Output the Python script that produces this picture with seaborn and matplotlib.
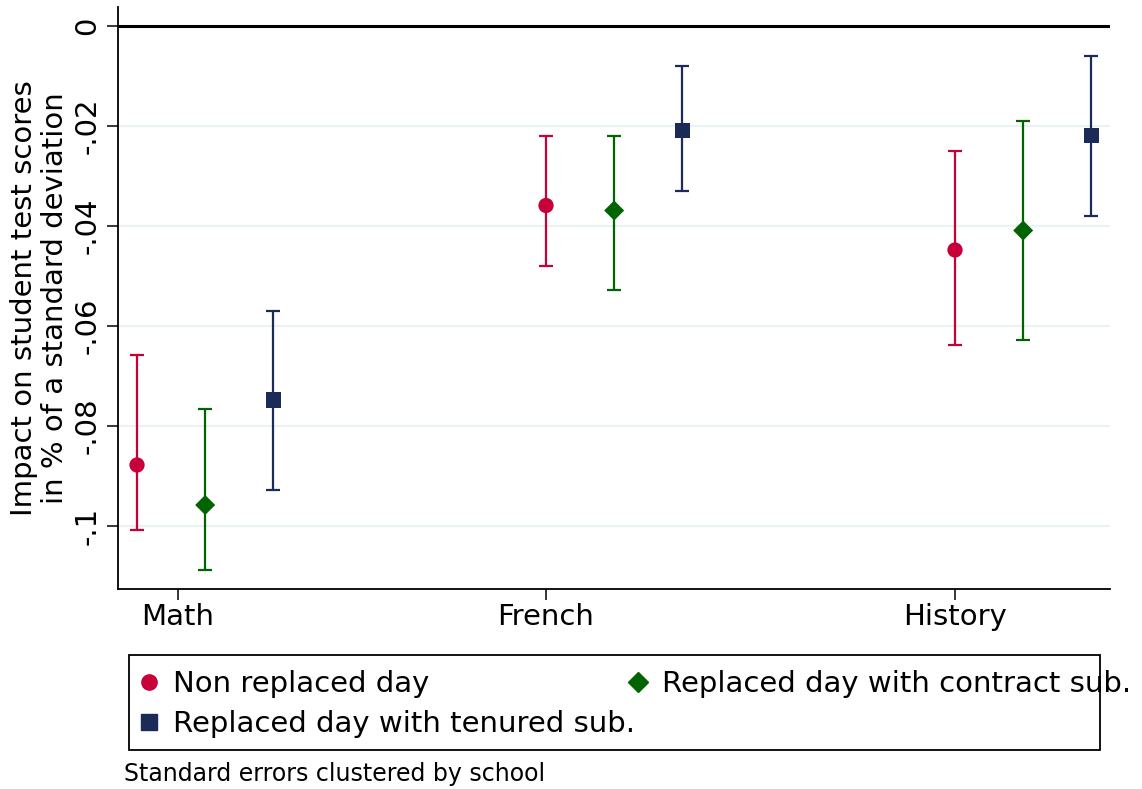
import matplotlib
matplotlib.use("Agg")
import matplotlib.pyplot as plt
from matplotlib.lines import Line2D
from matplotlib.patches import Rectangle
import numpy as np
import pandas as pd
import seaborn as sns

# data
subjects = ["Math", "French", "History"]
subject_ticks = [1.1, 2, 3]

series = ["Non replaced day", "Replaced day with contract sub.", "Replaced day with tenured sub."]
est_nonrep = [-0.0878, -0.0359, -0.0448]
lo_nonrep = [-0.1007, -0.0479, -0.0638]
hi_nonrep = [-0.0658, -0.0219, -0.0249]

est_contract = [-0.0958, -0.0369, -0.0409]
lo_contract = [-0.1087, -0.0528, -0.0628]
hi_contract = [-0.0765, -0.0219, -0.0189]

est_tenured = [-0.0748, -0.0209, -0.0219]
lo_tenured = [-0.0928, -0.0329, -0.0379]
hi_tenured = [-0.0569, -0.0080, -0.0060]

yticks = [0, -0.02, -0.04, -0.06, -0.08, -0.1]
ytick_labels = ["0", "-.02", "-.04", "-.06", "-.08", "-.1"]

# styling
colors = ["#C8003A", "#006400", "#1B2A56"]
markers = ["o", "D", "s"]
msizes = [11.0, 10.2, 11.0]
offsets = [0, 1 / 6, 1 / 3]

rows = []
for k, (name, est, lo, hi) in enumerate(zip(
        series,
        [est_nonrep, est_contract, est_tenured],
        [lo_nonrep, lo_contract, lo_tenured],
        [hi_nonrep, hi_contract, hi_tenured])):
    for g in range(len(subjects)):
        rows.append(dict(series=name, x=g + 1 + offsets[k], est=est[g], lo=lo[g], hi=hi[g]))
df = pd.DataFrame(rows)

sns.set_style("white")
plt.rcParams["font.family"] = ["DejaVu Sans"]
plt.rcParams["text.color"] = "black"
plt.rcParams["axes.labelcolor"] = "black"
plt.rcParams["xtick.color"] = "black"
plt.rcParams["ytick.color"] = "black"

W, H = 1142, 789
fig = plt.figure(figsize=(W / 100, H / 100), dpi=100)
ax = fig.add_axes([118 / W, 1 - 589 / H, (1110 - 118) / W, (589 - 7) / H])

for y in yticks[1:]:
    ax.axhline(y, color="#EAF2F3", lw=1.6, zorder=0)
ax.axhline(0, color="black", lw=2.2, zorder=1)

for k, name in enumerate(series):
    d = df[df.series == name]
    ax.errorbar(d.x, d.est, yerr=[d.est - d.lo, d.hi - d.est], fmt="none",
                ecolor=colors[k], elinewidth=1.6, capsize=5, capthick=1.6, zorder=2)
    sns.scatterplot(data=d, x="x", y="est", ax=ax, marker=markers[k], s=msizes[k] ** 2,
                    color=colors[k], edgecolor="none", linewidth=0, zorder=3, legend=False)

ax.set_xlim(0.9535, 3.379)
ax.set_ylim(-0.1126, 0.0038)
ax.set_xticks(subject_ticks)
ax.set_xticklabels(subjects, fontsize=21)
ax.set_yticks(yticks)
ax.set_yticklabels(ytick_labels, fontsize=21, rotation=90, va="center")
ax.tick_params(axis="both", direction="out", length=8, width=1.1, color="black", pad=4,
               left=True, bottom=True)
ax.tick_params(axis="x", pad=2)
ax.set_xlabel("")
ax.set_ylabel("Impact on student test scores\nin % of a standard deviation", fontsize=21,
              labelpad=3, linespacing=1.15)

sns.despine(ax=ax)
for s in ["left", "bottom"]:
    ax.spines[s].set_color("black")
    ax.spines[s].set_linewidth(1.3)

handles = [Line2D([], [], ls="none", marker=markers[k], color=colors[k], markersize=msizes[k])
           for k in range(3)]
order = [0, 2, 1]
ax.legend([handles[i] for i in order], [series[i] for i in order], ncol=2, frameon=False,
          loc="upper left", bbox_to_anchor=(134 / W, 1 - 670 / H), bbox_transform=fig.transFigure,
          fontsize=21, borderpad=0, borderaxespad=0, handlelength=1.0, handletextpad=0.33,
          labelspacing=0.42, columnspacing=-0.38)

fig.add_artist(Rectangle((129 / W, 1 - 750 / H), (1100 - 129) / W, 95 / H,
                         transform=fig.transFigure, fill=False, ec="black", lw=1.3))
fig.text(124 / W, 1 - 774 / H, "Standard errors clustered by school", fontsize=17, va="center")

fig.savefig("out.png", dpi=100)
